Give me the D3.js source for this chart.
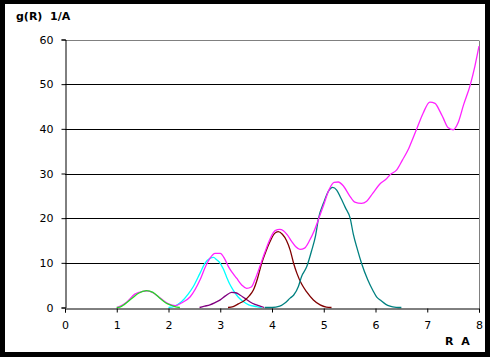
<!DOCTYPE html>
<html><head><meta charset="utf-8">
<script src="https://cdn.jsdelivr.net/npm/d3@7"></script>
<style>
html,body{margin:0;padding:0;background:#000;}
svg{display:block;}
</style></head>
<body>
<script>
// ---- data: [R, g(R)] ----
const xTicks = [0,1,2,3,4,5,6,7,8];
const yTicks = [0,10,20,30,40,50,60];
const yLabel = "g(R)  1/A";
const xLabel = "R  A";

const total = [[1.0,0],[1.1,0.5],[1.2,1.3],[1.35,3.0],[1.5,3.6],[1.6,3.7],[1.7,3.3],[1.84,2.1],[2.0,0.8],[2.13,0.4],[2.25,1.0],[2.42,2.4],[2.61,6.2],[2.72,9.3],[2.8,11.0],[2.9,12.1],[3.0,12.1],[3.08,11.0],[3.16,9.1],[3.32,6.5],[3.42,5.0],[3.51,4.3],[3.6,4.6],[3.67,6.2],[3.76,9],[3.86,12.3],[3.96,15.3],[4.06,17.2],[4.15,17.5],[4.22,17.2],[4.3,16.2],[4.38,14.8],[4.46,13.6],[4.54,13.0],[4.63,13.3],[4.73,15.1],[4.82,17.3],[4.9,19.8],[5.0,23],[5.1,26.3],[5.2,28.0],[5.28,28.1],[5.38,27.2],[5.5,25],[5.6,23.6],[5.73,23.3],[5.83,23.8],[5.95,25.6],[6.08,27.6],[6.22,28.9],[6.28,29.7],[6.41,30.8],[6.52,33],[6.63,35.3],[6.72,37.8],[6.8,40.1],[6.92,43.5],[7.05,46],[7.15,45.7],[7.25,43.8],[7.31,42.4],[7.4,40.3],[7.5,39.8],[7.6,41.5],[7.7,45.3],[7.83,49.8],[7.92,54],[8.0,58.5]];
const shell1 = [[1.0,0],[1.06,0.1],[1.15,0.7],[1.29,2.0],[1.42,3.2],[1.57,3.8],[1.7,3.4],[1.84,2.0],[1.95,1.0],[2.03,0.6],[2.12,0.2],[2.22,0]];
const shell2 = [[2.0,0],[2.1,0.2],[2.25,1.3],[2.38,3.0],[2.48,4.7],[2.61,7.7],[2.7,9.8],[2.8,11.0],[2.87,11.2],[2.93,10.7],[3.0,9.9],[3.06,8.6],[3.12,6.9],[3.18,5.3],[3.25,3.9],[3.35,2.3],[3.45,1.3],[3.55,0.6],[3.7,0.2],[3.8,0]];
const shell3 = [[2.6,0],[2.7,0.3],[2.8,0.6],[2.9,1.1],[3.0,1.7],[3.1,2.6],[3.22,3.4],[3.3,3.3],[3.38,2.8],[3.47,2.1],[3.57,1.3],[3.67,0.7],[3.77,0.3],[3.85,0]];
const shell4 = [[3.15,0],[3.25,0.2],[3.35,0.8],[3.48,1.7],[3.56,2.6],[3.64,3.9],[3.72,6.5],[3.8,9.9],[3.88,12.5],[3.96,14.7],[4.05,16.6],[4.12,17.0],[4.2,16.4],[4.28,15.0],[4.35,12.9],[4.42,9.8],[4.48,7.7],[4.57,5.3],[4.67,3.5],[4.8,1.7],[4.93,0.6],[5.05,0.1],[5.15,0]];
const shell5 = [[3.86,0],[4.0,0],[4.15,0.3],[4.25,1.0],[4.35,2.1],[4.42,2.8],[4.51,4.7],[4.57,6.9],[4.67,9.1],[4.77,12.9],[4.84,16],[4.9,20],[5.0,23.5],[5.1,26.2],[5.17,26.9],[5.25,26.3],[5.33,24.5],[5.42,22.3],[5.51,20],[5.57,16.5],[5.65,13],[5.73,9.9],[5.85,6.2],[5.95,3.8],[6.02,2.4],[6.1,1.6],[6.2,0.7],[6.28,0.3],[6.4,0.05],[6.5,0]];

const series = [
  {data: shell2, color: "#00ffff"},
  {data: shell3, color: "#800080"},
  {data: shell4, color: "#800000"},
  {data: shell5, color: "#008080"},
  {data: total,  color: "#ff22ff"},
  {data: shell1, color: "#22dd22"}
];

const W = 490, H = 357;
const svg = d3.select("body").append("svg").attr("width", W).attr("height", H);
svg.append("rect").attr("x",0).attr("y",0).attr("width",W).attr("height",H).attr("fill","#000");
svg.append("rect").attr("x",5).attr("y",4).attr("width",480).attr("height",348).attr("fill","#fff");

const x = d3.scaleLinear().domain([0,8]).range([65,479]);
const y = d3.scaleLinear().domain([0,60]).range([307.5,39.5]);

const font = "'DejaVu Sans', Verdana, sans-serif";

// gridlines
svg.append("g").selectAll("line").data(yTicks.filter(v=>v>0)).join("line")
  .attr("x1", x(0)).attr("x2", x(8))
  .attr("y1", d=>Math.round(y(d))+0.5).attr("y2", d=>Math.round(y(d))+0.5)
  .attr("stroke", d=> d===60 ? "#808080" : "#000").attr("stroke-width",1);
// right border
svg.append("line").attr("x1", Math.round(x(8))+0.5).attr("x2", Math.round(x(8))+0.5)
  .attr("y1", Math.round(y(60))+0.5).attr("y2", Math.round(y(0))+0.5)
  .attr("stroke","#808080");

// series lines
const line = d3.line().x(d=>x(d[0])).y(d=>y(d[1])).curve(d3.curveMonotoneX);
svg.append("g").selectAll("path").data(series).join("path")
  .attr("d", d=>line(d.data)).attr("fill","none")
  .attr("stroke", d=>d.color).attr("stroke-width",1.3);

// axes
const yAxis = d3.axisLeft(y).tickValues(yTicks).tickSize(4).tickPadding(8).tickFormat(d3.format("d"));
const gy = svg.append("g").attr("transform", `translate(${Math.round(x(0))+0.5},0)`).call(yAxis);
const xAxis = d3.axisBottom(x).tickValues(xTicks).tickSize(4).tickPadding(9).tickFormat(d3.format("d"));
const gx = svg.append("g").attr("transform", `translate(0,${Math.round(y(0))+0.5})`).call(xAxis);
[gx, gy].forEach(g=>{
  g.select(".domain").attr("stroke","#000");
  g.selectAll(".tick line").attr("stroke","#000");
  g.selectAll("text").attr("font-family", font).attr("font-size", 11).attr("fill","#000");
});

svg.append("text").attr("x",16).attr("y",20).attr("font-family",font).attr("font-size",11)
  .attr("font-weight","bold").attr("fill","#000").style("white-space","pre").text(yLabel);
svg.append("text").attr("x",445).attr("y",345).attr("font-family",font).attr("font-size",11)
  .attr("font-weight","bold").attr("fill","#000").style("white-space","pre").text(xLabel);
</script>
</body></html>
